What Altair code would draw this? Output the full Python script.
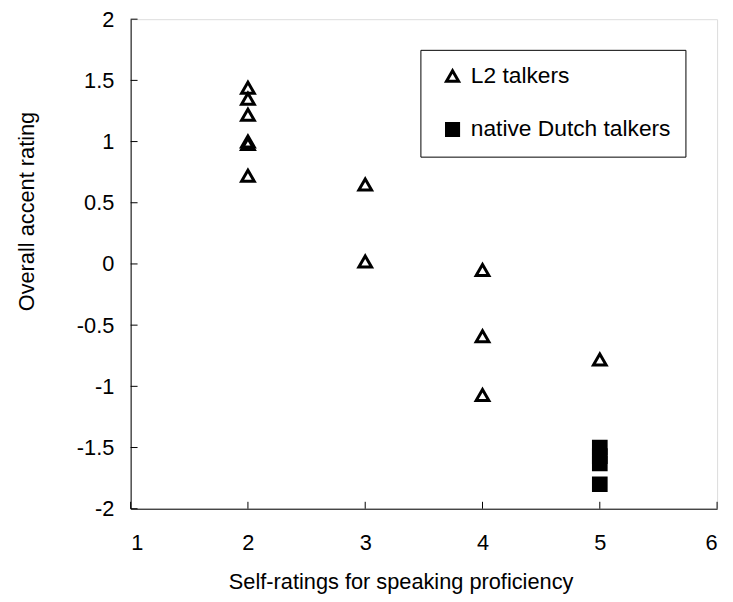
import altair as alt
import pandas as pd

# ---- data ----
series_names = ["L2 talkers", "native Dutch talkers"]
l2_x = [2, 2, 2, 2, 2, 2, 3, 3, 4, 4, 4, 5]
l2_y = [1.44, 1.35, 1.22, 1.00, 0.98, 0.72, 0.65, 0.02, -0.05, -0.59, -1.07, -0.78]
nd_x = [5, 5, 5, 5]
nd_y = [-1.50, -1.57, -1.63, -1.80]
x_ticks = [1, 2, 3, 4, 5, 6]
y_ticks = [-2, -1.5, -1, -0.5, 0, 0.5, 1, 1.5, 2]

FONT = "Liberation Sans"
W, H = 593, 495

pts = pd.DataFrame({
    "x": l2_x + nd_x,
    "y": l2_y + nd_y,
    "series": [series_names[0]] * len(l2_x) + [series_names[1]] * len(nd_x),
})
xt = pd.DataFrame({"x": x_ticks})
yt = pd.DataFrame({"y": y_ticks})

x_scale = alt.Scale(domain=[1, 6], nice=False, zero=False)
y_scale = alt.Scale(domain=[-2, 2], nice=False, zero=False)

x_axis = alt.Axis(
    values=x_ticks, ticks=False, tickSize=0, grid=False,
    domainColor="black", domainWidth=1,
    labelFont=FONT, labelFontSize=22, labelColor="black", labelPadding=24,
    labelExpr="'' + datum.value",
    title="Self-ratings for speaking proficiency",
    titleFont=FONT, titleFontSize=22, titleFontWeight="normal", titleColor="black",
    titleX=273, titleY=74, titleAlign="center", titleBaseline="middle",
)
y_axis = alt.Axis(
    values=y_ticks, ticks=False, tickSize=0, grid=False,
    domainColor="black", domainWidth=1,
    labelFont=FONT, labelFontSize=22, labelColor="black", labelPadding=17,
    labelExpr="'' + datum.value",
    title="Overall accent rating",
    titleFont=FONT, titleFontSize=22, titleFontWeight="normal", titleColor="black",
    titleAngle=-90, titleX=-105, titleY=194, titleAlign="center", titleBaseline="middle",
)

legend = alt.Legend(
    title=None, orient="none", legendX=293, legendY=31,
    strokeColor="black", fillColor="white", padding=15, cornerRadius=0,
    labelFont=FONT, labelFontSize=23, labelColor="black", labelOffset=7,
    labelLimit=400, rowPadding=29, symbolSize=150, symbolStrokeColor="black",
    symbolStrokeWidth=3, symbolOffset=6,
    labelExpr="datum.label + '\u00a0\u00a0\u00a0\u00a0'",
)

points = alt.Chart(pts).mark_point(
    strokeWidth=3, size=165, opacity=1
).encode(
    x=alt.X("x:Q", scale=x_scale, axis=x_axis),
    y=alt.Y("y:Q", scale=y_scale, axis=y_axis),
    shape=alt.Shape("series:N", scale=alt.Scale(domain=series_names, range=["triangle-up", "square"]), legend=legend),
    fill=alt.Fill("series:N", scale=alt.Scale(domain=series_names, range=["transparent", "black"]), legend=legend),
    stroke=alt.Stroke("series:N", scale=alt.Scale(domain=series_names, range=["black", "black"]), legend=legend),
)

xticks = alt.Chart(xt).mark_rule(color="black", strokeWidth=1).encode(
    x=alt.X("x:Q", scale=x_scale, axis=x_axis),
    y=alt.value(H), y2=alt.value(H - 7),
)
yticks = alt.Chart(yt).mark_rule(color="black", strokeWidth=1).encode(
    y=alt.Y("y:Q", scale=y_scale, axis=y_axis),
    x=alt.value(0), x2=alt.value(7),
)

chart = alt.layer(points, xticks, yticks).properties(
    width=W, height=H,
    autosize=alt.AutoSizeParams(type="none"),
    padding={"left": 124, "top": 8, "right": 8, "bottom": 90},
).configure_view(
    stroke="black", strokeWidth=1
).configure(background="white")

chart.save("out.html", embed_options={"renderer": "svg", "actions": False})
